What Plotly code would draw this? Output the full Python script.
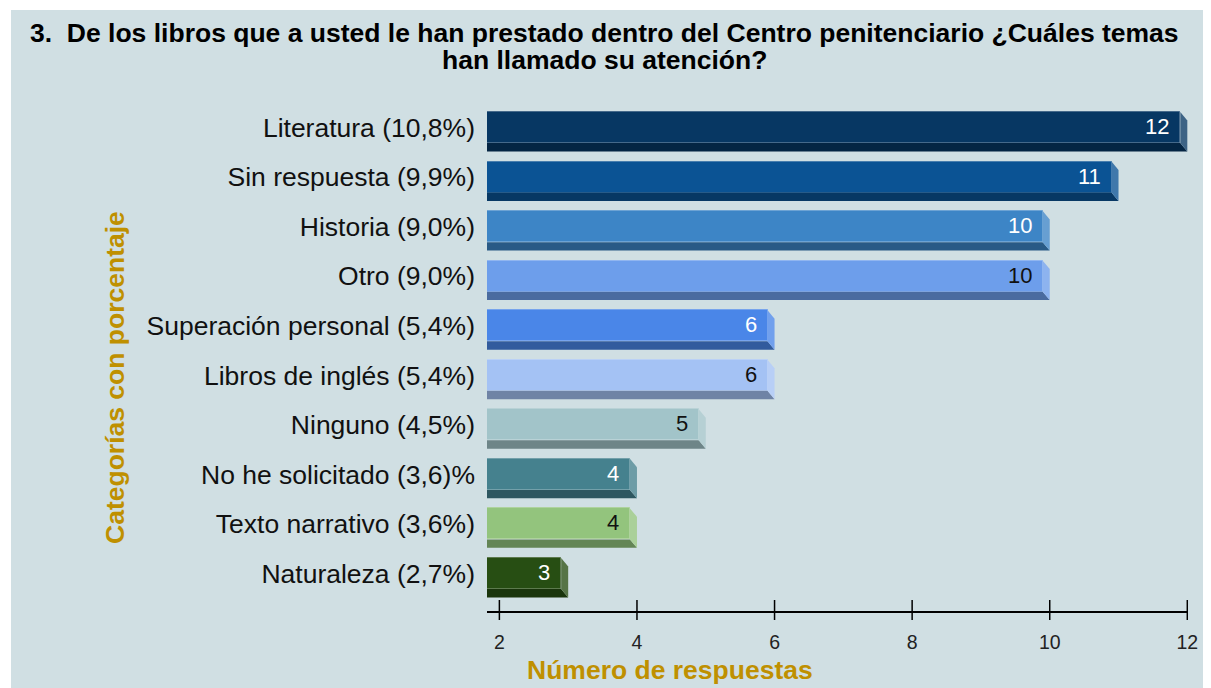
import plotly.graph_objects as go

# ---------------- data ----------------
categories = [
    "Literatura (10,8%)",
    "Sin respuesta (9,9%)",
    "Historia (9,0%)",
    "Otro (9,0%)",
    "Superación personal (5,4%)",
    "Libros de inglés (5,4%)",
    "Ninguno (4,5%)",
    "No he solicitado (3,6)%",
    "Texto narrativo (3,6%)",
    "Naturaleza (2,7%)",
]
values = [12, 11, 10, 10, 6, 6, 5, 4, 4, 3]
bar_colors = ["#073763", "#0b5394", "#3d85c6", "#6d9eeb", "#4a86e8",
              "#a4c2f4", "#a2c4c9", "#45818e", "#93c47d", "#274e13"]
label_colors = ["white", "white", "white", "#111111", "white",
                "#111111", "#111111", "white", "#111111", "white"]
x_tick_values = [2, 4, 6, 8, 10, 12]

title_line1 = "3.\u00a0 De los libros que a usted le han prestado dentro del Centro penitenciario ¿Cuáles temas"
title_line2 = "han llamado su atención?"
x_title = "Número de respuestas"
y_title = "Categorías con porcentaje"

# ---------------- styling helpers ----------------
OFF = 8                      # page body margin
W, H = 1211 - OFF, 688 - OFF
# plot area in screenshot pixels
PL, PR, PT, PB = 487, 1188, 102, 611
L, R, T, B = PL - OFF, PR - OFF, PT - OFF, PB - OFF
BG = "#d0dfe3"
FONT = "Liberation Sans, Arial, sans-serif"
GOLD = "#bf9000"


def px(x):
    return (x - OFF - L) / (R - L)


def py(y):
    return (B - (y - OFF)) / (B - T)


def to_rgb(h):
    h = h.lstrip("#")
    return tuple(int(h[i:i + 2], 16) for i in (0, 2, 4))


def darken(h, f):
    r, g, b = to_rgb(h)
    return "rgb(%d,%d,%d)" % (r * f, g * f, b * f)


def tint(h, f):
    r, g, b = to_rgb(h)
    return "rgb(%d,%d,%d)" % (r + (255 - r) * f, g + (255 - g) * f, b + (255 - b) * f)


n = len(categories)
ypos = [n - 1 - i for i in range(n)]
X0, X1 = 1.82, 12.01
Y0, Y1 = -0.757, 9.515
DX = 0.102    # 3d depth (x units)
DY = 0.17     # 3d depth (y units)
HH = 0.313    # half height of front face

fig = go.Figure()
fig.add_trace(go.Bar(
    orientation="h",
    y=ypos,
    x=[v - DX - X0 for v in values],
    base=X0,
    width=2 * HH,
    marker=dict(color=bar_colors,
                line=dict(color=[tint(c, 0.25) for c in bar_colors], width=1)),
    hoverinfo="skip",
    showlegend=False,
))

shapes = []
# background panel (white border at top/left)
shapes.append(dict(type="rect", xref="paper", yref="paper",
                   x0=px(11), x1=px(1211 + 20), y0=py(688 + 20), y1=py(10),
                   fillcolor=BG, line=dict(width=0), layer="below"))

for v, yc, c in zip(values, ypos, bar_colors):
    xf = v - DX
    yb = yc - HH
    # bottom face
    shapes.append(dict(type="path", xref="x", yref="y",
                       path=f"M {X0},{yb} L {xf},{yb} L {v},{yb - DY} L {X0},{yb - DY} Z",
                       fillcolor=darken(c, 0.68), line=dict(width=0)))
    # side face
    shapes.append(dict(type="path", xref="x", yref="y",
                       path=f"M {xf},{yc + HH} L {v},{yc + HH - DY} L {v},{yb - DY} L {xf},{yb} Z",
                       fillcolor=tint(c, 0.22), line=dict(width=0)))

# x tick marks crossing the axis
for t in x_tick_values:
    shapes.append(dict(type="line", xref="x", yref="paper",
                       x0=t, x1=t, y0=-9 / (B - T), y1=11 / (B - T),
                       line=dict(color="black", width=1.5)))

annotations = []
for v, yc, tc in zip(values, ypos, label_colors):
    annotations.append(dict(x=v - DX, y=yc, xref="x", yref="y", text=str(v),
                            showarrow=False, xanchor="right", yanchor="middle",
                            xshift=-9, yshift=1,
                            font=dict(family=FONT, size=22, color=tc)))

annotations += [
    dict(x=px(604), y=py(33), xref="paper", yref="paper", text="<b>" + title_line1 + "</b>",
         showarrow=False, xanchor="center", yanchor="middle",
         font=dict(family=FONT, size=26.5, color="black")),
    dict(x=px(604), y=py(60), xref="paper", yref="paper", text="<b>" + title_line2 + "</b>",
         showarrow=False, xanchor="center", yanchor="middle",
         font=dict(family=FONT, size=26.5, color="black")),
    dict(x=px(669.5), y=py(670), xref="paper", yref="paper", text="<b>" + x_title + "</b>",
         showarrow=False, xanchor="center", yanchor="middle",
         font=dict(family=FONT, size=26.5, color=GOLD)),
    dict(x=px(115), y=py(378), xref="paper", yref="paper", text="<b>" + y_title + "</b>",
         showarrow=False, xanchor="center", yanchor="middle", textangle=-90,
         font=dict(family=FONT, size=26.5, color=GOLD)),
]

fig.update_layout(
    width=W, height=H,
    margin=dict(l=L, r=W - R, t=T, b=H - B, pad=0),
    paper_bgcolor="white",
    plot_bgcolor="rgba(0,0,0,0)",
    shapes=shapes,
    annotations=annotations,
    bargap=0,
    xaxis=dict(range=[X0, X1], tickvals=x_tick_values, ticks="", showgrid=False,
               zeroline=False, showline=True, linecolor="black", linewidth=1.5,
               ticklabelstandoff=13,
               tickfont=dict(family=FONT, size=19.5, color="#222222"), fixedrange=True),
    yaxis=dict(range=[Y0, Y1], tickvals=ypos, ticktext=categories, ticks="",
               showgrid=False, zeroline=False, showline=False,
               ticklabelstandoff=11,
               tickfont=dict(family=FONT, size=26.5, color="#111111"), fixedrange=True),
)

fig.write_html("out.html")
